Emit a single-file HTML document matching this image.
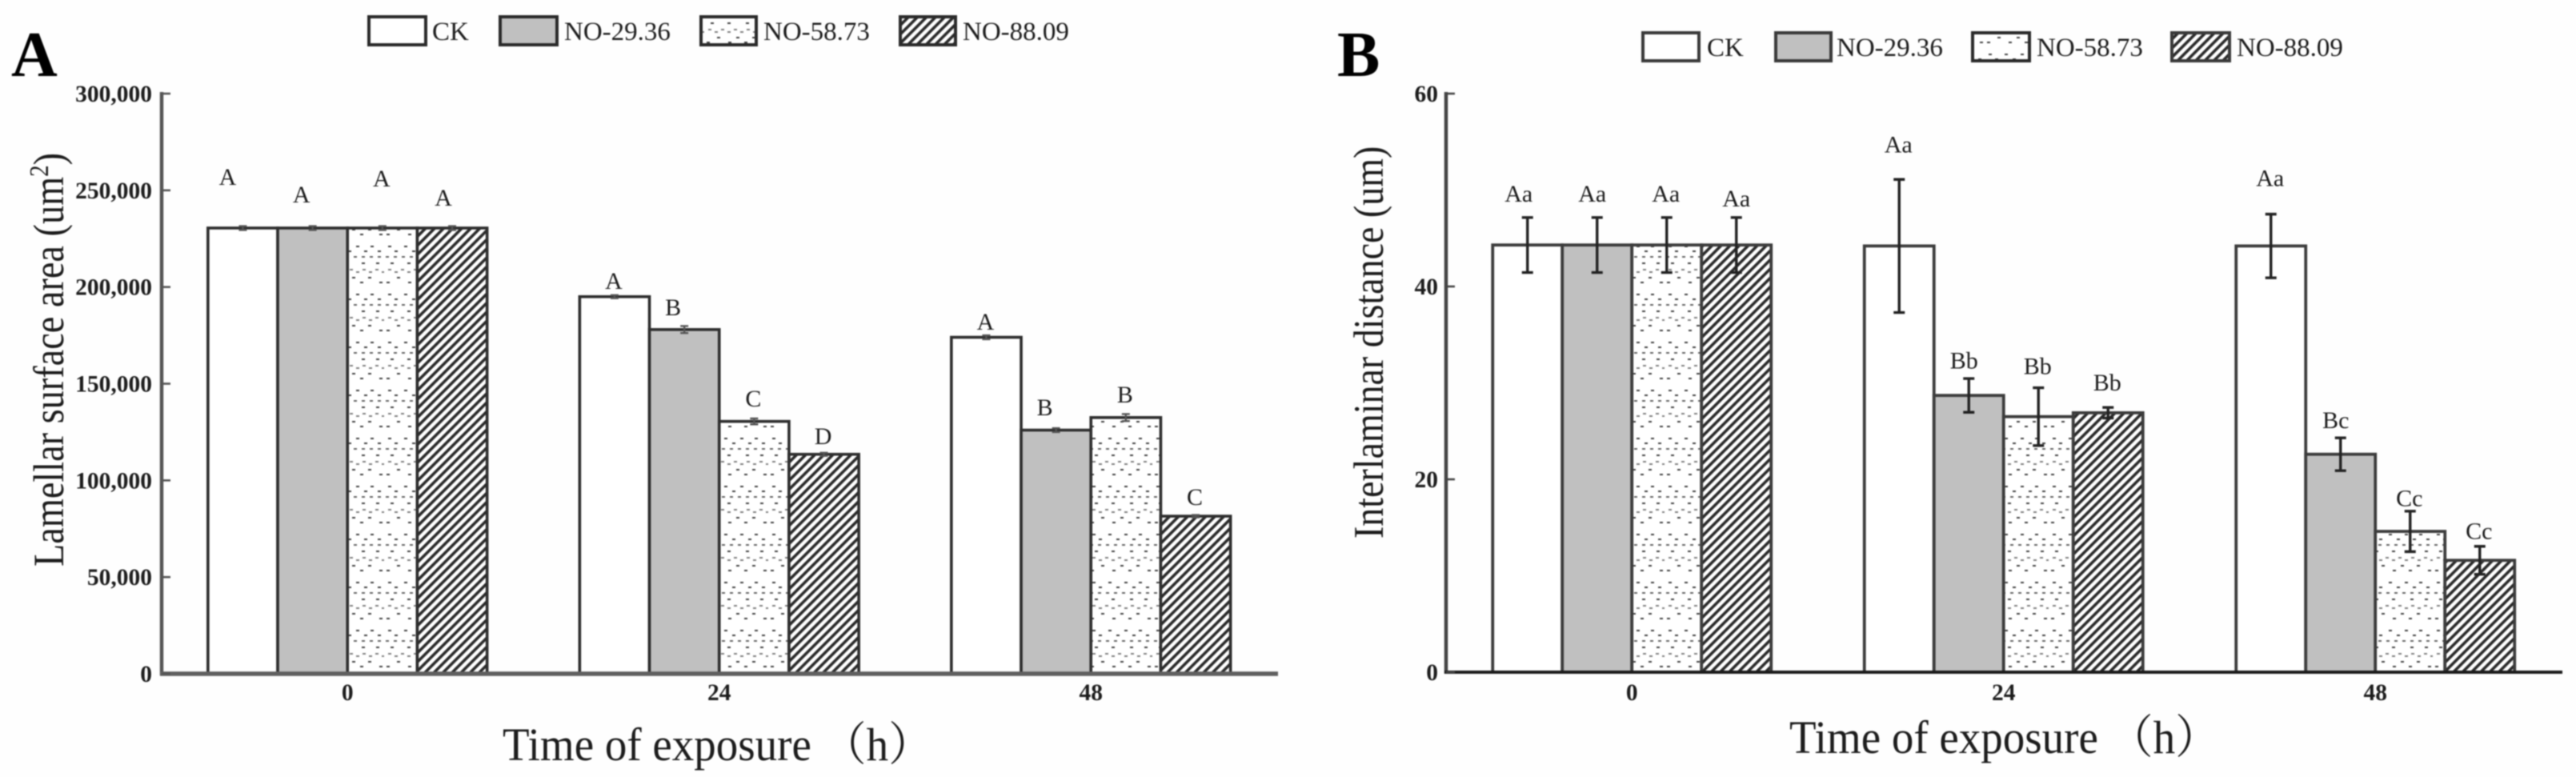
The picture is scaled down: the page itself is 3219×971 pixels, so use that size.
<!DOCTYPE html>
<html lang="en">
<head>
<meta charset="utf-8">
<title>Lamellar surface area and interlaminar distance</title>
<style>
  html, body { margin: 0; padding: 0; background: #fefefe; }
  svg { display: block; filter: blur(0.9px); font-family: "Liberation Serif", "Noto Serif CJK SC", serif; }
  text { fill: #1c1c1c; }
</style>
</head>
<body>
<svg id="figure" xmlns="http://www.w3.org/2000/svg" width="3219" height="971" viewBox="0 0 3219 971">
  <defs>
    <pattern id="dots" patternUnits="userSpaceOnUse" width="80" height="60">
      <rect width="80" height="60" fill="#fff"/>
      <path fill="#444" d="M5 7h4v2h-4zM25 7h4v2h-4zM45 7h4v2h-4zM63 7h4v2h-4zM13 13h4v2h-4zM35 13h4v2h-4zM55 13h4v2h-4zM72 13h4v2h-4zM8 28h4v2h-4zM29 28h4v2h-4zM52 28h4v2h-4zM70 28h4v2h-4zM16 46h4v2h-4zM40 46h4v2h-4zM60 46h4v2h-4zM3 52h4v2h-4zM30 52h4v2h-4zM50 52h4v2h-4zM74 52h4v2h-4z"/>
      <path fill="#666" d="M2 20h4v2h-4zM12 20h4v2h-4zM22 20h4v2h-4zM32 20h4v2h-4zM42 20h4v2h-4zM52 20h4v2h-4zM62 20h4v2h-4zM72 20h4v2h-4z"/>
      <path fill="#808080" d="M5 36h4v2h-4zM13 39h4v2h-4zM21 36h4v2h-4zM29 39h4v2h-4zM37 36h4v2h-4zM45 39h4v2h-4zM53 36h4v2h-4zM61 39h4v2h-4zM69 36h4v2h-4zM77 39h3v2h-3z"/>
    </pattern>
    <pattern id="hatch" patternUnits="userSpaceOnUse" width="8" height="8" patternTransform="rotate(45)">
      <rect width="8" height="8" fill="#fff"/>
      <rect width="3.6" height="8" fill="#2a2a2a"/>
    </pattern>
  </defs>

  <rect width="3219" height="971" fill="#fefefe"/>

  <text x="14" y="95" font-size="80" font-weight="bold" style="fill:#000">A</text>
  <text x="1671" y="95" font-size="80" font-weight="bold" style="fill:#000">B</text>

  <g font-size="33">
    <g>
      <rect x="461" y="21" width="71" height="35" fill="#fff" stroke="#2a2a2a" stroke-width="4"/>
      <text x="540" y="50">CK</text>
    </g>
    <g>
      <rect x="625" y="21" width="71" height="35" fill="#c0c0c0" stroke="#2a2a2a" stroke-width="4"/>
      <text x="705" y="50">NO-29.36</text>
    </g>
    <g>
      <rect x="876" y="21" width="69" height="35" fill="url(#dots)" stroke="#2a2a2a" stroke-width="4"/>
      <text x="954" y="50">NO-58.73</text>
    </g>
    <g>
      <rect x="1125" y="21" width="69" height="35" fill="url(#hatch)" stroke="#2a2a2a" stroke-width="4"/>
      <text x="1203" y="50">NO-88.09</text>
    </g>
  </g>

  <g font-size="33">
    <g>
      <rect x="2053" y="41" width="70" height="35" fill="#fff" stroke="#3a3a3a" stroke-width="4"/>
      <text x="2133" y="70">CK</text>
    </g>
    <g>
      <rect x="2219" y="41" width="69" height="35" fill="#c0c0c0" stroke="#3a3a3a" stroke-width="4"/>
      <text x="2295" y="70">NO-29.36</text>
    </g>
    <g>
      <rect x="2465" y="41" width="71" height="35" fill="url(#dots)" stroke="#2a2a2a" stroke-width="4"/>
      <text x="2545" y="70">NO-58.73</text>
    </g>
    <g>
      <rect x="2714" y="41" width="72" height="35" fill="url(#hatch)" stroke="#3a3a3a" stroke-width="4"/>
      <text x="2795" y="70">NO-88.09</text>
    </g>
  </g>

  <text transform="translate(79,708) rotate(-90) scale(0.965,1.12)" font-size="48">Lamellar surface area (um<tspan dy="-17" font-size="30">2</tspan><tspan dy="17">)</tspan></text>
  <text transform="translate(1728,673) rotate(-90) scale(1,1.16)" font-size="46">Interlaminar distance (um)</text>
  <text transform="translate(628,950) scale(1,1.05)" font-size="55">Time of exposure （h）</text>
  <text transform="translate(2236,941) scale(1,1.05)" font-size="55">Time of exposure （h）</text>

  <g id="panel-a"></g>
  <g id="panel-b"></g>
</svg>

<script>
/* Shared categories */
const categories = ['0', '24', '48'];
const seriesKeys = ['ck', 'no-29', 'no-58', 'no-88'];

/* Panel A: lamellar surface area */
const areaCK = [230500, 195000, 174000];
const areaNO29 = [230500, 178000, 126000];
const areaNO58 = [230500, 130500, 132500];
const areaNO88 = [230500, 113500, 81500];
const areaErrCK = [1000, 800, 1000];
const areaErrNO29 = [1000, 1800, 1000];
const areaErrNO58 = [1000, 1500, 1800];
const areaErrNO88 = [1000, 800, 600];
const areaLettersCK = ['A', 'A', 'A'];
const areaLettersNO29 = ['A', 'B', 'B'];
const areaLettersNO58 = ['A', 'C', 'B'];
const areaLettersNO88 = ['A', 'D', 'C'];
const areaLetterAtCK = [252800, 199000, 177900];
const areaLetterAtNO29 = [243700, 185400, 133600];
const areaLetterAtNO58 = [252000, 138200, 140300];
const areaLetterAtNO88 = [242000, 118700, 87300];
const areaTicks = [0, 50000, 100000, 150000, 200000, 250000, 300000];
const areaTickLabels = ['0', '50,000', '100,000', '150,000', '200,000', '250,000', '300,000'];

/* Panel B: interlaminar distance */
const distCK = [44.3, 44.2, 44.2];
const distNO29 = [44.3, 28.7, 22.6];
const distNO58 = [44.3, 26.5, 14.6];
const distNO88 = [44.3, 26.9, 11.6];
const distErrCK = [2.85, 6.9, 3.3];
const distErrNO29 = [2.85, 1.75, 1.7];
const distErrNO58 = [2.85, 3.0, 2.1];
const distErrNO88 = [2.85, 0.55, 1.45];
const distLettersCK = ['Aa', 'Aa', 'Aa'];
const distLettersNO29 = ['Aa', 'Bb', 'Bc'];
const distLettersNO58 = ['Aa', 'Bb', 'Cc'];
const distLettersNO88 = ['Aa', 'Bb', 'Cc'];
const distLetterAtCK = [48.8, 53.9, 50.4];
const distLetterAtNO29 = [48.8, 31.5, 25.3];
const distLetterAtNO58 = [48.8, 30.9, 17.2];
const distLetterAtNO88 = [48.3, 29.2, 13.8];
const distTicks = [0, 20, 40, 60];
const distTickLabels = ['0', '20', '40', '60'];

const SVGNS = 'http://www.w3.org/2000/svg';
const fills = ['#ffffff', '#c0c0c0', 'url(#dots)', 'url(#hatch)'];

function el(parent, tag, attrs, content) {
  const node = document.createElementNS(SVGNS, tag);
  for (const key in attrs) node.setAttribute(key, attrs[key]);
  if (content !== undefined) node.textContent = content;
  parent.appendChild(node);
  return node;
}

function drawPanel(p) {
  const root = document.getElementById(p.id);
  const y = v => p.zero - (v / p.max) * (p.zero - p.top);
  const groupCentre = g => p.left + (g + 0.5) * p.step;
  const barLeft = (g, s) => groupCentre(g) + (s - 2) * p.barW;
  const letterShift = (g, s) => {
    if (s === 1) return p.letterNudge;
    if (g === 0 && s === 0) return p.firstNudge;
    if (g === 0 && s === 3) return p.lastNudge;
    return -1;
  };

  categories.forEach((cat, g) => {
    p.values.forEach((series, s) => {
      const v = series[g];
      const bar = el(root, 'rect', {
        x: barLeft(g, s), y: y(v), width: p.barW, height: p.zero - y(v),
        fill: fills[s], stroke: p.barStroke, 'stroke-width': p.barStrokeW
      });
      
      
    });
  });

  categories.forEach((cat, g) => {
    p.values.forEach((series, s) => {
      const v = series[g], e = p.errors[s][g];
      const cx = barLeft(g, s) + p.barW / 2;
      const err = el(root, 'path', {
        d: 'M' + cx + ' ' + y(v + e) + 'V' + y(v - e) +
           'M' + (cx - p.capW) + ' ' + y(v + e) + 'H' + (cx + p.capW) +
           'M' + (cx - p.capW) + ' ' + y(v - e) + 'H' + (cx + p.capW),
        fill: 'none', stroke: p.errStroke, 'stroke-width': p.errW
      });
      
      

      const letter = el(root, 'text', {
        x: cx + letterShift(g, s), y: y(p.letterAt[s][g]), 'text-anchor': 'middle', 'font-size': 30
      }, p.letters[s][g]);
      
      
    });
  });

  const yAxis = el(root, 'line', {
    x1: p.left, x2: p.left, y1: p.top - 2, y2: p.zero + 2,
    stroke: p.yAxisStroke, 'stroke-width': 4.5
  });
  
  

  const xAxis = el(root, 'line', {
    x1: p.left - 2, x2: p.right, y1: p.zero, y2: p.zero,
    stroke: p.xAxisStroke, 'stroke-width': p.xAxisW
  });
  
  

  p.ticks.forEach((t, i) => {
    const tick = el(root, 'line', {
      x1: p.left, x2: p.left + 11, y1: y(t), y2: y(t),
      stroke: p.yAxisStroke, 'stroke-width': 2.6
    });
    
    

    const label = el(root, 'text', {
      x: p.tickRight, y: y(t) + 10, 'text-anchor': 'end',
      'font-size': 29.5, 'font-weight': 'bold'
    }, p.tickLabels[i]);
    
    
  });

  categories.forEach((cat, g) => {
    const label = el(root, 'text', {
      x: groupCentre(g), y: 875, 'text-anchor': 'middle',
      'font-size': 29.5, 'font-weight': 'bold'
    }, cat);
    
    
  });
}

drawPanel({
  id: 'panel-a', name: 'a', max: 300000, top: 117, zero: 842,
  left: 202, right: 1597, step: 464.5, barW: 87.2, tickRight: 190,
  values: [areaCK, areaNO29, areaNO58, areaNO88],
  errors: [areaErrCK, areaErrNO29, areaErrNO58, areaErrNO88],
  letters: [areaLettersCK, areaLettersNO29, areaLettersNO58, areaLettersNO88],
  letterAt: [areaLetterAtCK, areaLetterAtNO29, areaLetterAtNO58, areaLetterAtNO88],
  ticks: areaTicks, tickLabels: areaTickLabels,
  barStroke: '#2e2e2e', barStrokeW: 3.6, errStroke: '#555', errW: 2.4, capW: 5,
  yAxisStroke: '#555', xAxisStroke: '#5f5f5f', xAxisW: 5.5,
  letterNudge: -14, firstNudge: -19, lastNudge: -11
});

drawPanel({
  id: 'panel-b', name: 'b', max: 60, top: 117, zero: 840,
  left: 1807, right: 3202, step: 464.5, barW: 87, tickRight: 1797,
  values: [distCK, distNO29, distNO58, distNO88],
  errors: [distErrCK, distErrNO29, distErrNO58, distErrNO88],
  letters: [distLettersCK, distLettersNO29, distLettersNO58, distLettersNO88],
  letterAt: [distLetterAtCK, distLetterAtNO29, distLetterAtNO58, distLetterAtNO88],
  ticks: distTicks, tickLabels: distTickLabels,
  barStroke: '#3c3c3c', barStrokeW: 3.8, errStroke: '#222', errW: 3.4, capW: 7,
  yAxisStroke: '#444', xAxisStroke: '#1c1c1c', xAxisW: 4,
  letterNudge: -6, firstNudge: -11, lastNudge: 0
});
</script>
</body>
</html>
